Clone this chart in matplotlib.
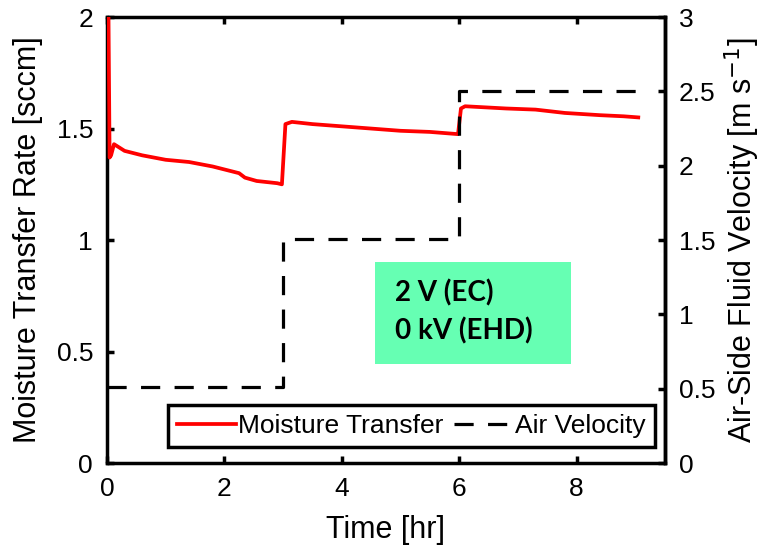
import numpy as np
import matplotlib
matplotlib.use('Agg')
import matplotlib.pyplot as plt
from matplotlib.patches import Rectangle

plt.rcParams['font.family'] = ['Liberation Sans', 'DejaVu Sans']

# moisture transfer rate [sccm] vs time [hr]
t_moist = [0.0, 0.02, 0.045, 0.07, 0.12, 0.3, 0.6, 1.0, 1.4, 1.8, 2.1, 2.25, 2.35, 2.55, 2.9, 2.98,
           3.04, 3.15, 3.5, 4.0, 4.5, 5.0, 5.5, 5.98,
           6.03, 6.1, 6.8, 7.3, 7.8, 8.4, 8.8, 9.05]
moist = [2.2, 2.2, 1.37, 1.38, 1.43, 1.40, 1.38, 1.36, 1.35, 1.33, 1.31, 1.30, 1.28, 1.265, 1.255, 1.25,
         1.52, 1.53, 1.52, 1.51, 1.50, 1.49, 1.485, 1.475,
         1.59, 1.60, 1.59, 1.585, 1.57, 1.56, 1.555, 1.55]

# air velocity steps [m/s]
t_air = [0.0, 3.0, 3.0, 6.0, 6.0, 9.05]
air = [0.51, 0.51, 1.51, 1.51, 2.5, 2.5]

box_lines = ['2 V (EC)', '0 kV (EHD)']

fig = plt.figure(figsize=(7.64, 5.5), dpi=100)
ax = fig.add_axes([0.140, 0.158, 0.730, 0.811])
ax2 = ax.twinx()
for side in ('left', 'top', 'bottom'):
    ax2.spines[side].set_visible(False)

l1, = ax.plot(t_moist, moist, color='red', lw=2.7, label='Moisture Transfer', zorder=3)
l2, = ax2.plot(t_air, air, color='black', lw=2.3, ls=(0, (6, 4.5)), label='Air Velocity')

ax.set_xlim(0, 9.5)
ax.set_ylim(0, 2)
ax2.set_ylim(0, 3)
ax.set_xticks([0, 2, 4, 6, 8])
ax.set_yticks([0, 0.5, 1, 1.5, 2])
ax.set_yticklabels(['0', '0.5', '1', '1.5', '2'])
ax2.set_yticks([0, 0.5, 1, 1.5, 2, 2.5, 3])
ax2.set_yticklabels(['0', '0.5', '1', '1.5', '2', '2.5', '3'])

for a in (ax, ax2):
    for s in a.spines.values():
        s.set_linewidth(2.5)
    a.tick_params(direction='in', length=5, width=2.5, labelsize=19, pad=10)
ax.tick_params(axis='x', top=True)

ax.set_xlabel('Time [hr]', fontsize=22, labelpad=10)
ax.set_ylabel('Moisture Transfer Rate [sccm]', fontsize=22, labelpad=10)
ax2.set_ylabel('Air-Side Fluid Velocity [m s$^{-1}$]', fontsize=22, labelpad=5)

# condition box
ax.add_patch(Rectangle((4.56, 0.444), 3.35, 0.457, facecolor='#66FFB3',
                       edgecolor='none', zorder=3))
ax.text(4.9, 0.763, box_lines[0], fontsize=20, fontweight='bold', family='Lato',
        va='center', zorder=4)
ax.text(4.9, 0.593, box_lines[1], fontsize=20, fontweight='bold', family='Lato',
        va='center', zorder=4)

leg = ax2.legend([l1, l2], ['Moisture Transfer', 'Air Velocity'], ncol=2,
                 loc='lower right', bbox_to_anchor=(0.982, 0.036), fontsize=19,
                 fancybox=False, framealpha=1, edgecolor='black', handlelength=2.2,
                 handletextpad=0.1, columnspacing=0.4, borderpad=0.35,
                 borderaxespad=0)
leg.get_frame().set_linewidth(2.5)

fig.savefig('out.png', dpi=100)
